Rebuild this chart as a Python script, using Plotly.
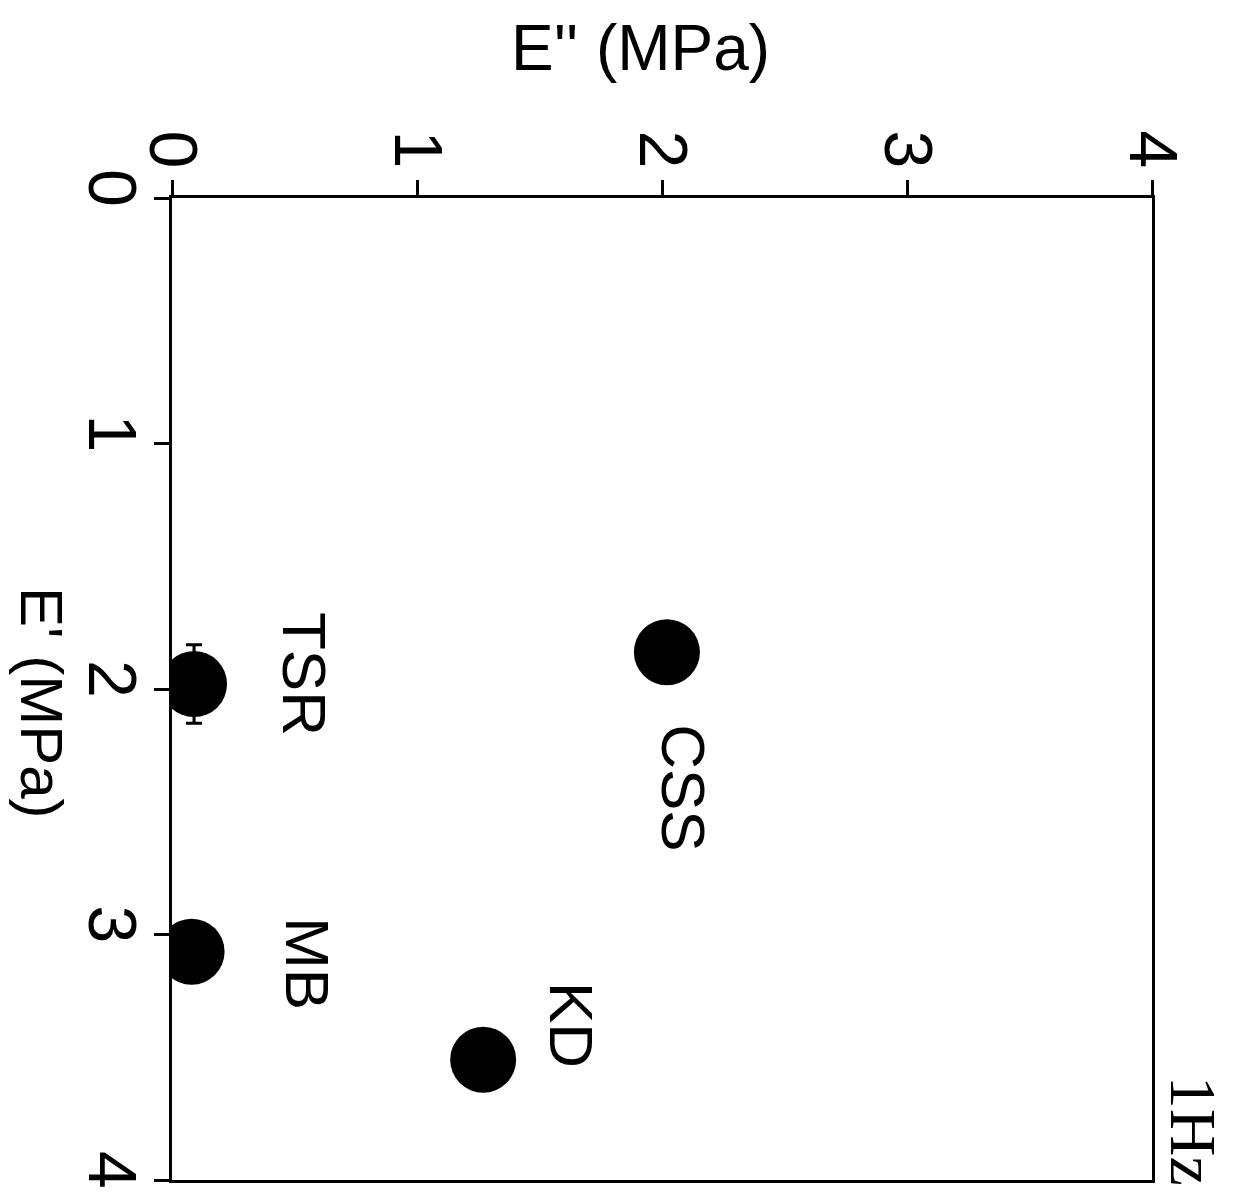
import plotly.graph_objects as go

# ---- data ----
samples = ["CSS", "TSR", "MB", "KD"]
e_loss = [2.02, 0.09, 0.08, 1.27]        # E'' (MPa), horizontal axis
e_storage = [1.85, 1.98, 3.07, 3.51]     # E' (MPa), vertical axis (reversed)
e_storage_err = [0, 0.16, 0, 0]
tick_vals = [0, 1, 2, 3, 4]
tick_text = ["0", "1", "2", "3", "4"]
x_title = "E'' (MPa)"
y_title = "E' (MPa)"
note = "1Hz"

# label placement (data coordinates of label centres)
label_pos = {
    "CSS": (2.09, 2.40),
    "TSR": (0.54, 1.94),
    "MB": (0.55, 3.12),
    "KD": (1.63, 3.37),
}

FONT = "Liberation Sans"

fig = go.Figure()
fig.add_trace(go.Scatter(
    x=e_loss, y=e_storage, mode="markers",
    marker=dict(size=66, color="black", line=dict(width=0)),
    error_y=dict(type="data", array=e_storage_err, visible=True,
                 color="black", thickness=3, width=8),
    showlegend=False, hoverinfo="text", text=samples,
))

for name in samples:
    lx, ly = label_pos[name]
    fig.add_annotation(x=lx, y=ly, xref="x", yref="y", text=name,
                       showarrow=False, textangle=90,
                       font=dict(family=FONT, size=62, color="black"),
                       xanchor="center", yanchor="middle")

fig.add_annotation(x=0.478, y=1.153, xref="paper", yref="paper", text=x_title,
                   showarrow=False, font=dict(family=FONT, size=64, color="black"),
                   xanchor="center", yanchor="middle")
fig.add_annotation(x=-0.133, y=0.486, xref="paper", yref="paper", text=y_title,
                   showarrow=False, textangle=90,
                   font=dict(family=FONT, size=60, color="black"),
                   xanchor="center", yanchor="middle")
fig.add_annotation(x=1.042, y=0.050, xref="paper", yref="paper", text=note,
                   showarrow=False, textangle=90,
                   font=dict(family="Liberation Serif", size=66, color="black"),
                   xanchor="center", yanchor="middle")

axis_common = dict(
    tickmode="array", tickvals=tick_vals, ticktext=tick_text,
    ticks="outside", ticklen=15, tickwidth=3, tickcolor="black",
    showline=True, linecolor="black", linewidth=3, mirror=True,
    showgrid=False, zeroline=False, automargin=False,
    tickfont=dict(family=FONT, size=68, color="black"),
    tickangle=90,
)

fig.update_layout(
    width=1233, height=1203,
    margin=dict(l=164, r=89, t=190, b=31),
    paper_bgcolor="white", plot_bgcolor="white",
    xaxis=dict(range=[0, 4], side="top", ticklabelstandoff=-12, **axis_common),
    yaxis=dict(range=[4, 0], ticklabelstandoff=-17, **axis_common),
)

fig.write_html("out.html")
